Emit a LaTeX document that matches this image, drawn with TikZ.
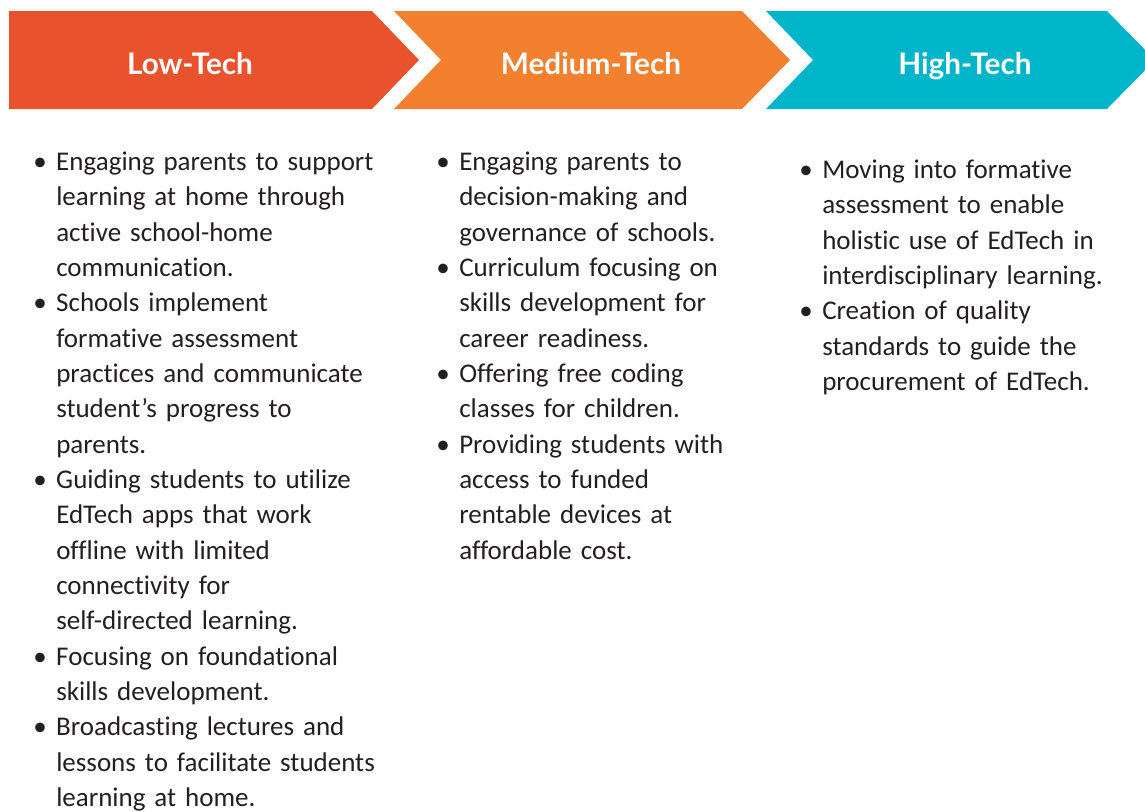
\documentclass[tikz,border=0pt]{standalone}
\usepackage{fontspec}
\setmainfont{Carlito}[Ligatures={TeX,NoCommon}]
\newfontfamily\headfont{Lato}
\usepackage{xcolor}
\usetikzlibrary{positioning}

\definecolor{lowred}{HTML}{E8522C}
\definecolor{medorange}{HTML}{F2802E}
\definecolor{hightea}{HTML}{00B5CA}
\definecolor{bodytext}{HTML}{231F20}

\newcommand{\bitem}{\par\noindent\hangindent=17.25pt\hangafter=1\makebox[17.25pt][l]{\textbullet}}

\begin{document}
\begin{tikzpicture}[x=0.75pt, y=-0.75pt, headtext/.style={anchor=base, text=white, font=\headfont\bfseries\fontsize{22.3}{26}\selectfont}, itemlist/.style={anchor=north west, inner sep=0pt, text=bodytext, align=left, font=\fontsize{20.25}{26.5}\selectfont}]

    \useasboundingbox (0,0) rectangle (1145,811);

    %Shapes
    \fill[lowred] (9,11) -- (372,11) -- (419,60) -- (372,109) -- (9,109) -- cycle;
    \fill[medorange] (394,11) -- (742,11) -- (790,60) -- (742,109) -- (394,109) -- (441,60) -- cycle;
    \fill[hightea] (766,11) -- (1107,11) -- (1155,60) -- (1107,109) -- (766,109) -- (813,60) -- cycle;

    %Nodes
    \node[headtext](lowhead) at (190,74){Low-Tech};
    \node[headtext](medhead) at (591,74){Medium-Tech};
    \node[headtext](highhead) at (965,74){High-Tech};

    \node[itemlist, text width=270pt](lowlist) at (33,135){%
    \bitem Engaging parents to support\newline learning at home through\newline active school-home\newline communication.
    \bitem Schools implement\newline formative assessment\newline practices and communicate\newline student’s progress to\newline parents.
    \bitem Guiding students to utilize\newline EdTech apps that work\newline offline with limited\newline connectivity for\newline self-directed learning.
    \bitem Focusing on foundational\newline skills development.
    \bitem Broadcasting lectures and\newline lessons to facilitate students\newline learning at home.\par};

    \node[itemlist, text width=260pt](medlist) at (436,135){%
    \bitem Engaging parents to\newline decision-making and\newline governance of schools.
    \bitem Curriculum focusing on\newline skills development for\newline career readiness.
    \bitem Offering free coding\newline classes for children.
    \bitem Providing students with\newline access to funded\newline rentable devices at\newline affordable cost.\par};

    \node[itemlist, text width=250pt](highlist) at (799,143){%
    \bitem Moving into formative\newline assessment to enable\newline holistic use of EdTech in\newline interdisciplinary learning.
    \bitem Creation of quality\newline standards to guide the\newline procurement of EdTech.\par};

\end{tikzpicture}
\end{document}
